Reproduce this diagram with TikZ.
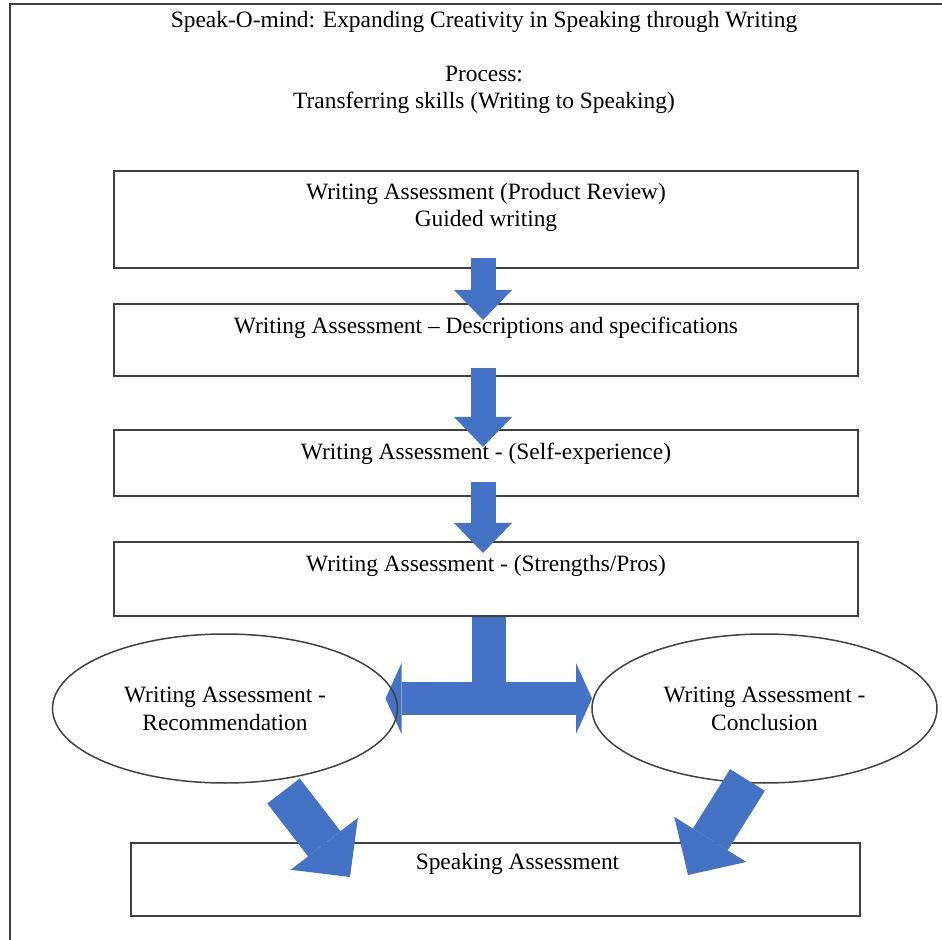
\documentclass[tikz,border=0pt]{standalone}
\usepackage{fontspec}
\setmainfont{Liberation Serif}
\usetikzlibrary{arrows.meta,positioning,shapes.geometric,calc}
\pgfdeclarelayer{back}
\pgfsetlayers{back,main}
\definecolor{flowblue}{HTML}{4472C4}
\definecolor{edgegray}{HTML}{404040}

\begin{document}
\begin{tikzpicture}[x=0.5pt, y=-0.5pt, node distance=18pt,
  box/.style={draw=edgegray, line width=1pt, outer sep=0pt, inner sep=0pt, minimum width=372pt},
  txt/.style={align=center, inner sep=0pt, font=\fontsize{11.7}{13.5}\selectfont},
  oval/.style={draw=edgegray, line width=0.75pt, ellipse, outer sep=0pt, inner sep=0pt, minimum width=172.5pt, minimum height=74.5pt, align=center, font=\fontsize{11.7}{14}\selectfont},
  flow/.style={draw=flowblue, line width=12.5pt, -{Triangle[length=15pt, width=29pt, line width=0pt]}},
  diag/.style={draw=flowblue, line width=20.5pt, -{Triangle[length=21pt, width=42.5pt, line width=0pt]}},
  stem/.style={draw=flowblue, line width=17pt},
  fork/.style={draw=flowblue, line width=16.5pt, {Triangle[length=8pt, width=35.5pt, line width=0pt]}-{Triangle[length=8pt, width=35.5pt, line width=0pt]}}]
  \useasboundingbox (0,0) rectangle (942,940);
  \draw[edgegray, line width=1pt] (10,940) -- (10,4.5) -- (942,4.5);

  \node[txt] (title) at (484,21.5) {Speak-O-mind: Expanding Creativity in Speaking through Writing};
  \node[txt] (process) at (484,90) {Process:\\Transferring skills (Writing to Speaking)};

  \node[box, minimum height=48.5pt] (b1) at (486,219.5) {};
  \node[box, minimum height=36pt, below=18pt of b1] (b2) {};
  \node[box, minimum height=33pt, below=27pt of b2] (b3) {};
  \node[box, minimum height=37pt, below=23pt of b3] (b4) {};
  \node[oval] (lov) at (225,708.5) {Writing Assessment -\\Recommendation};
  \node[oval] (ros) at (764.5,708.5) {Writing Assessment -\\Conclusion};
  \node[box, minimum width=364.5pt, minimum height=36.5pt] (b5) at (495.5,879.5) {};

  \node[txt] (t1) at ([yshift=-18pt]b1.north) {Writing Assessment (Product Review)\\Guided writing};
  \node[txt] (t2) at ([yshift=-12pt]b2.north) {Writing Assessment \textendash{} Descriptions and specifications};
  \node[txt] (t3) at ([yshift=-12pt]b3.north) {Writing Assessment - (Self-experience)};
  \node[txt] (t4) at ([yshift=-12pt]b4.north) {Writing Assessment - (Strengths/Pros)};
  \node[txt] (t5) at ([xshift=11pt, yshift=-10.5pt]b5.north) {Speaking Assessment};

  \draw[flow] ([xshift=-1.5pt, yshift=5pt]b1.south) -- ([xshift=-1.5pt, yshift=-8pt]b2.north);
  \draw[flow] ([xshift=-1.5pt, yshift=4pt]b2.south) -- ([xshift=-1.5pt, yshift=-8.5pt]b3.north);
  \draw[flow] ([xshift=-1.5pt, yshift=7pt]b3.south) -- ([xshift=-1.5pt, yshift=-5.5pt]b4.north);
  \begin{pgfonlayer}{back}
    \draw[stem] ([xshift=1.5pt]b4.south) -- ++(0,83);
    \draw[fork] ([xshift=-6pt, yshift=5pt]lov.east) -- ([yshift=5pt]ros.west);
  \end{pgfonlayer}
  \draw[diag] ($(lov.south)+(58.5,8)$) -- ($(b5.north west)+(219,34)$);
  \draw[diag] ($(ros.south)+(-17,-3)$) -- ($(b5.north east)+(-172,32)$);
\end{tikzpicture}
\end{document}
